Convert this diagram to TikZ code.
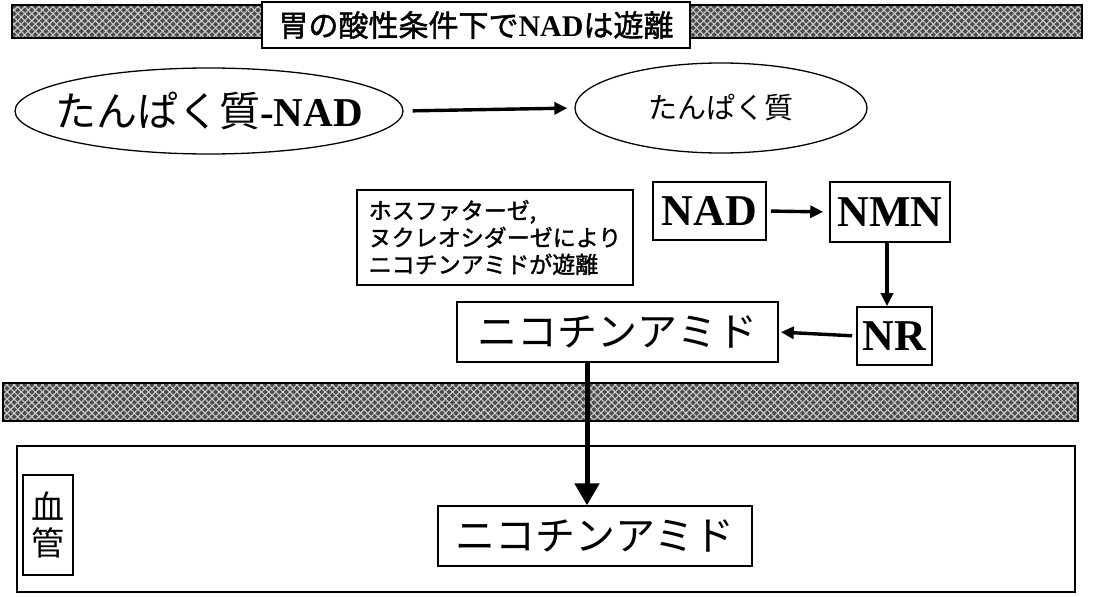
\documentclass[tikz,border=0pt]{standalone}
\usepackage{fontspec}
\setmainfont{Liberation Serif}
\newfontfamily\jp[AutoFakeBold=1.5]{Noto Sans CJK JP}
\usetikzlibrary{shapes.geometric,arrows.meta,patterns.meta}
\tikzset{
  box/.style={draw, line width=1.6pt, fill=white, inner sep=0pt, align=center},
  oval/.style={draw, ellipse, line width=1.3pt, inner sep=0pt},
  arr/.style={line width=3.4pt, -{Triangle[length=13pt,width=12pt]}},
  bigarr/.style={line width=5pt, -{Triangle[length=22pt,width=24pt]}},
  band/.style={fill=black!70},
  hatchA/.style={pattern={Lines[angle=45,distance=5pt,line width=1.1pt]}, pattern color=white!80!black},
  hatchB/.style={pattern={Lines[angle=-45,distance=5pt,line width=1.1pt]}, pattern color=white!80!black},
  lat/.style={font=\fontsize{44}{44}\selectfont\bfseries},
}
\begin{document}
\begin{tikzpicture}[x=1pt,y=-1pt]
\useasboundingbox (0,0) rectangle (1098,597);
% top band
\fill[band] (12,5) rectangle (1082,38);
\fill[hatchA] (12,5) rectangle (1082,38);
\fill[hatchB] (12,5) rectangle (1082,38);
\draw[line width=1.2pt] (12,5) rectangle (1082,38);
\node[box, minimum width=428pt, minimum height=46pt, font=\jp\bfseries\fontsize{30}{30}\selectfont] (title) at (476,25)
  {胃の酸性条件下で{\rmfamily\bfseries NAD}は遊離};
% ellipses
\node[oval, minimum width=388pt, minimum height=86pt,
  label={[font=\jp\fontsize{41}{41}\selectfont]center:たんぱく質{\rmfamily\bfseries -NAD}}] (e1) at (209,111) {};
\node[oval, minimum width=292pt, minimum height=90pt,
  label={[font=\jp\fontsize{29}{29}\selectfont]center:たんぱく質}] (e2) at (721,108) {};
\draw[arr, shorten <=9pt, shorten >=7pt] (e1.east) -- (e2.west);
% note
\node[box, minimum width=276pt, minimum height=95pt, align=left, font=\jp\bfseries\fontsize{23}{27}\selectfont] (note) at (495,237.5)
  {ホスファターゼ,\\ヌクレオシダーゼにより\\ニコチンアミドが遊離};
% NAD NMN NR
\node[box, minimum width=113pt, minimum height=58pt, lat] (nad) at (709.5,211) {NAD};
\node[box, minimum width=120pt, minimum height=60pt, lat] (nmn) at (890,212) {NMN};
\node[box, minimum width=75pt, minimum height=58pt, lat] (nr) at (894.5,336) {NR};
\node[box, minimum width=321pt, minimum height=60pt, font=\jp\fontsize{40}{40}\selectfont] (nico1) at (617.5,332)
  {ニコチンアミド};
\draw[arr, shorten <=4pt, shorten >=6pt] (nad.east) -- (nmn.west);
\draw[arr] (nmn.south -| 887,0) -- (nr.north -| 887,0);
\draw[arr, shorten <=4pt, shorten >=2pt] (nr.west) -- (nico1.east);
% bottom band
\fill[band] (3,383) rectangle (1078,421);
\fill[hatchA] (3,383) rectangle (1078,421);
\fill[hatchB] (3,383) rectangle (1078,421);
\draw[line width=1.2pt] (3,383) rectangle (1078,421);
% vessel
\node[draw, line width=1.3pt, minimum width=1058pt, minimum height=146pt] (vessel) at (546,519) {};
\node[box, line width=1.3pt, minimum width=50pt, minimum height=100pt, font=\jp\fontsize{33}{36}\selectfont] (kk) at (48,525)
  {血\\管};
\node[box, line width=1.3pt, minimum width=314pt, minimum height=60pt, font=\jp\fontsize{40}{40}\selectfont] (nico2) at (595,536)
  {ニコチンアミド};
\draw[bigarr] (nico1.south -| 587,0) -- (nico2.north -| 587,0);
\end{tikzpicture}
\end{document}
